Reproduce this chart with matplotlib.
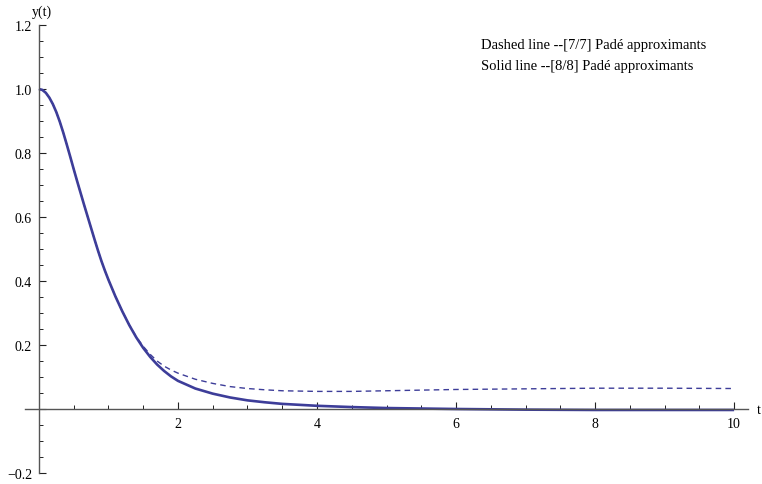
import matplotlib
matplotlib.use("Agg")
import matplotlib.pyplot as plt
from matplotlib.ticker import FixedLocator

# Data
t_vals = [0.0, 0.05, 0.1, 0.15, 0.2, 0.25, 0.3, 0.35, 0.4, 0.45, 0.5, 0.55, 0.6,
          0.65, 0.7, 0.75, 0.8, 0.85, 0.9, 0.95, 1.0, 1.1, 1.2, 1.3, 1.4, 1.5,
          1.6, 1.7, 1.8, 1.9, 2.0, 2.25, 2.5, 2.75, 3.0, 3.25, 3.5, 4.0, 4.5,
          5.0, 6.0, 7.0, 8.0, 9.0, 10.0]
y_solid = [1.000, 0.997, 0.988, 0.973, 0.953, 0.928, 0.898, 0.864, 0.827, 0.789,
           0.750, 0.712, 0.675, 0.638, 0.602, 0.566, 0.530, 0.495, 0.462, 0.432,
           0.404, 0.352, 0.305, 0.262, 0.224, 0.191, 0.163, 0.139, 0.119, 0.102,
           0.088, 0.064, 0.048, 0.036, 0.027, 0.021, 0.016, 0.010, 0.006,
           0.003, 0.000, -0.002, -0.003, -0.003, -0.003]
y_dashed = [1.000, 0.997, 0.988, 0.973, 0.953, 0.928, 0.898, 0.864, 0.827, 0.789,
            0.750, 0.712, 0.675, 0.638, 0.602, 0.566, 0.530, 0.495, 0.462, 0.432,
            0.404, 0.352, 0.305, 0.263, 0.226, 0.196, 0.171, 0.150, 0.134, 0.122,
            0.112, 0.093, 0.080, 0.070, 0.064, 0.060, 0.057, 0.055, 0.055,
            0.057, 0.061, 0.063, 0.065, 0.065, 0.064]

x_major = [2, 4, 6, 8, 10]
y_major = [-0.2, 0.2, 0.4, 0.6, 0.8, 1.0, 1.2]
legend_lines = ["Dashed line --[7/7] Padé approximants",
                "Solid line --[8/8] Padé approximants"]

plt.rcParams['font.family'] = ['Liberation Serif', 'DejaVu Serif']
line_color = '#3d3d99'
axis_color = '#555555'

fig = plt.figure(figsize=(7.62, 4.85), dpi=100)
W, H = 762, 485
ax = fig.add_axes([25 / W, (H - 474) / H, (748 - 25) / W, (474 - 26) / H])
ax.set_xlim(-0.2, 10.2)
ax.set_ylim(-0.2, 1.2)

ax.plot(t_vals, y_dashed, color=line_color, lw=1.0, linestyle=(0, (4, 3)))
ax.plot(t_vals, y_solid, color=line_color, lw=1.9, solid_capstyle='butt',
        solid_joinstyle='round')

for s in ['top', 'right']:
    ax.spines[s].set_visible(False)
ax.spines['left'].set_position(('data', 0))
ax.spines['bottom'].set_position(('data', 0))
ax.spines['left'].set_bounds(-0.2, 1.2)
ax.spines['left'].set_color(axis_color)
ax.spines['bottom'].set_color(axis_color)
ax.spines['left'].set_linewidth(1.0)
ax.spines['bottom'].set_linewidth(1.0)

ax.xaxis.set_major_locator(FixedLocator(x_major))
ax.xaxis.set_minor_locator(FixedLocator([i * 0.5 for i in range(1, 20) if (i * 0.5) % 2 != 0]))
ax.yaxis.set_major_locator(FixedLocator(y_major + [0.0]))
ax.yaxis.set_minor_locator(FixedLocator([round(-0.2 + i * 0.05, 3) for i in range(29)
                                         if round((-0.2 + i * 0.05) / 0.2, 3) % 1 != 0]))
ax.set_xticklabels([str(v) for v in x_major])
ax.set_yticklabels([f"{v:.1f}".replace('-', '\u2212') for v in y_major] + [""])

ax.tick_params(axis='x', which='major', direction='in', length=5, width=0.8,
               color='#222222', labelsize=10, pad=6)
ax.tick_params(axis='x', which='minor', direction='in', length=3, width=0.7,
               color='#222222')
ax.tick_params(axis='y', which='major', direction='in', length=5, width=0.8,
               color='#222222', labelsize=10, pad=5)
ax.tick_params(axis='y', which='minor', direction='in', length=3, width=0.7,
               color='#222222')

fig.text(42 / W, 1 - 12 / H, "y(t)", ha='center', va='center', fontsize=10)
fig.text(757 / W, 1 - 411 / H, "t", ha='left', va='center', fontsize=10)

fig.text(481 / W, 1 - 45 / H, legend_lines[0], ha='left', va='center', fontsize=10.5)
fig.text(481 / W, 1 - 67 / H, legend_lines[1], ha='left', va='center', fontsize=10.5)

fig.savefig("out.png", dpi=100)
